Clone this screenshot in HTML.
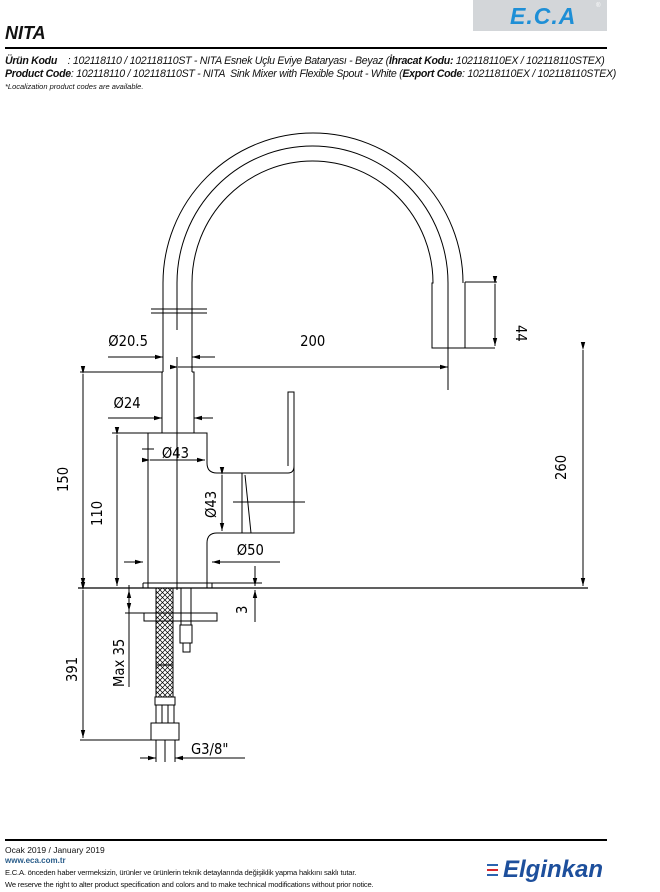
<!DOCTYPE html>
<html><head><meta charset="utf-8"><style>
body{margin:0;width:660px;height:892px;background:#fff;position:relative;overflow:hidden;font-family:"Liberation Sans",sans-serif}
.t{position:absolute;white-space:nowrap;font-style:italic;color:#111}
</style></head><body>
<div style="position:absolute;left:473px;top:0;width:134px;height:31px;background:#d3d6d9"></div>
<div class="t" style="left:510px;top:3px;font-size:23px;font-weight:bold;color:#1e8fd6;letter-spacing:1px">E.C.A</div>
<div class="t" style="left:596px;top:3px;font-size:6px;color:#fff">®</div>
<div class="t" style="left:5px;top:23px;font-size:18px;font-weight:bold">NITA</div>
<div style="position:absolute;left:5px;top:47px;width:602px;height:2px;background:#000"></div>
<div class="t" style="left:5px;top:55px;font-size:10.6px;letter-spacing:-0.3px"><b>Ürün Kodu</b> &nbsp;&nbsp;&nbsp;: 102118110 / 102118110ST - NITA Esnek Uçlu Eviye Bataryası - Beyaz (<b>İhracat Kodu:</b> 102118110EX / 102118110STEX)</div>
<div class="t" style="left:5px;top:68px;font-size:10.6px;letter-spacing:-0.3px"><b>Product Code</b>: 102118110 / 102118110ST - NITA &nbsp;Sink Mixer with Flexible Spout - White (<b>Export Code</b>: 102118110EX / 102118110STEX)</div>
<div class="t" style="left:5px;top:82px;font-size:7.5px">*Localization product codes are available.</div>

<svg style="position:absolute;left:0;top:0" width="660" height="892" viewBox="0 0 660 892">
<defs>
<marker id="a" markerWidth="8" markerHeight="6" refX="8" refY="3" orient="auto" markerUnits="userSpaceOnUse"><path d="M0,0.8 L8,3 L0,5.2z" fill="#000"/></marker>
<pattern id="h" width="5" height="5" patternUnits="userSpaceOnUse"><path d="M0,0L5,5M5,0L0,5" stroke="#000" stroke-width="0.7"/></pattern>
</defs>
<g fill="none" stroke="#000" stroke-width="1">
<path d="M163,372 L163,283 A150,150 0 0 1 463,283 L463,282"/>
<path d="M177,330 L177,283 A135.5,137 0 0 1 448,283 L448,390"/>
<path d="M192,372 L192,283 A120.5,122 0 0 1 433,283 L432,283 L432,348 L495,348"/>
<path d="M465,282 L465,348 M465,282 L497,282"/>
<path d="M151,309 H207 M151,313 H207"/>
<path d="M495,284 V346" marker-start="url(#a)" marker-end="url(#a)"/>
<path d="M178,367 H448" marker-start="url(#a)" marker-end="url(#a)"/>
<path d="M108,357 H163" marker-end="url(#a)"/><path d="M215,357 H192" marker-end="url(#a)"/>
<path d="M177,357 V590"/>
<path d="M163,372 H162 V433 M192,372 H194 V433"/>
<path d="M80,372 H162"/>
<path d="M108,418 H162" marker-end="url(#a)"/><path d="M213,418 H194" marker-end="url(#a)"/>
<path d="M148,433 H207 V463 Q207,473 217,473 H288 Q294,473 294,466 V392 H288 V466"/>
<path d="M294,466 V533 H240"/>
<path d="M242,473 V533 M245,475 L251,533"/>
<path d="M240,533 H217 Q207,533 207,543 V588 M148,433 V588"/>
<path d="M233,502 H305"/>
<path d="M222,475 V531" marker-start="url(#a)" marker-end="url(#a)"/>
<path d="M150,460 H205" marker-start="url(#a)" marker-end="url(#a)"/>
<path d="M142,449 H154 M148,443 V455"/>
<path d="M112,433 H148"/>
<path d="M117,435 V586" marker-start="url(#a)" marker-end="url(#a)"/>
<path d="M83,374 V586" marker-start="url(#a)" marker-end="url(#a)"/>
<path d="M124,562 H143" marker-end="url(#a)"/><path d="M280,562 H212" marker-end="url(#a)"/>
<path d="M143,583 H212 V588 M143,583 V588"/>
<path d="M78,588 H588" stroke-width="1.3"/>
<path d="M583,350 V586" marker-start="url(#a)" marker-end="url(#a)"/>
<path d="M255,566 V586" marker-end="url(#a)"/><path d="M255,622 V590" marker-end="url(#a)"/>
<path d="M212,583 H262"/>
<rect x="156" y="588" width="17" height="109" fill="url(#h)"/>
<path d="M156,588 V697 M173,588 V697 M156,665 H173"/>
<rect x="144" y="613" width="73" height="8"/>
<path d="M181,588 V625 M191,588 V625"/>
<rect x="180" y="625" width="12" height="18"/><rect x="183" y="643" width="7" height="9"/>
<rect x="155" y="697" width="20" height="8"/>
<rect x="156" y="705" width="18" height="18"/><path d="M162,705 V723 M168,705 V723"/>
<rect x="151" y="723" width="28" height="17"/>
<path d="M165,740 V762"/>
<path d="M129,585 V687" /><path d="M129,600 V590" marker-end="url(#a)"/><path d="M129,600 V611" marker-end="url(#a)"/>
<path d="M125,613 H144"/>
<path d="M83,590 V738" marker-start="url(#a)" marker-end="url(#a)"/>
<path d="M80,740 H151"/>
<path d="M140,758 H156" marker-end="url(#a)"/><path d="M245,758 H175" marker-end="url(#a)"/>
<path d="M156,740 V762 M175,740 V762"/>
</g>
<g font-family="DejaVu Sans, sans-serif" font-size="15" fill="#000" transform="scale(0.88,1)">
<text x="123" y="346">Ø20.5</text>
<text x="341" y="346">200</text>
<text x="129" y="408">Ø24</text>
<text x="184" y="458">Ø43</text>
<text x="269" y="555">Ø50</text>
<text x="217" y="754">G3/8"</text>
</g>
<g font-family="DejaVu Sans, sans-serif" font-size="15" fill="#000">
<text transform="translate(516,325) rotate(90) scale(0.88,1)">44</text>
<text transform="translate(68,492) rotate(-90) scale(0.88,1)">150</text>
<text transform="translate(102,526) rotate(-90) scale(0.88,1)">110</text>
<text transform="translate(216,518) rotate(-90) scale(0.88,1)">Ø43</text>
<text transform="translate(566,480) rotate(-90) scale(0.88,1)">260</text>
<text transform="translate(247,614) rotate(-90) scale(0.88,1)">3</text>
<text transform="translate(124,687) rotate(-90) scale(0.88,1)">Max 35</text>
<text transform="translate(77,682) rotate(-90) scale(0.88,1)">391</text>
</g>
</svg>

<div style="position:absolute;left:5px;top:839px;width:602px;height:2px;background:#000"></div>
<div class="t" style="left:5px;top:845px;font-size:8.5px;font-style:normal">Ocak 2019 / January 2019</div>
<div class="t" style="left:5px;top:856px;font-size:8px;font-style:normal;font-weight:bold;color:#2a5d8a">www.eca.com.tr</div>
<div class="t" style="left:5px;top:868px;font-size:7.6px;font-style:normal;letter-spacing:-0.2px">E.C.A. önceden haber vermeksizin, ürünler ve ürünlerin teknik detaylarında değişiklik yapma hakkını saklı tutar.</div>
<div class="t" style="left:5px;top:880px;font-size:7.6px;font-style:normal;letter-spacing:-0.2px">We reserve the right to alter product specification and colors and to make technical modifications without prior notice.</div>
<div style="position:absolute;left:487px;top:864px;width:11px;height:2px;background:#2a64b0"></div>
<div style="position:absolute;left:487px;top:869px;width:11px;height:2px;background:#d8262d"></div>
<div style="position:absolute;left:487px;top:874px;width:11px;height:2px;background:#2a64b0"></div>
<div class="t" style="left:503px;top:856px;font-size:24px;font-weight:bold;color:#1d4f9c">Elginkan</div>
</body></html>
